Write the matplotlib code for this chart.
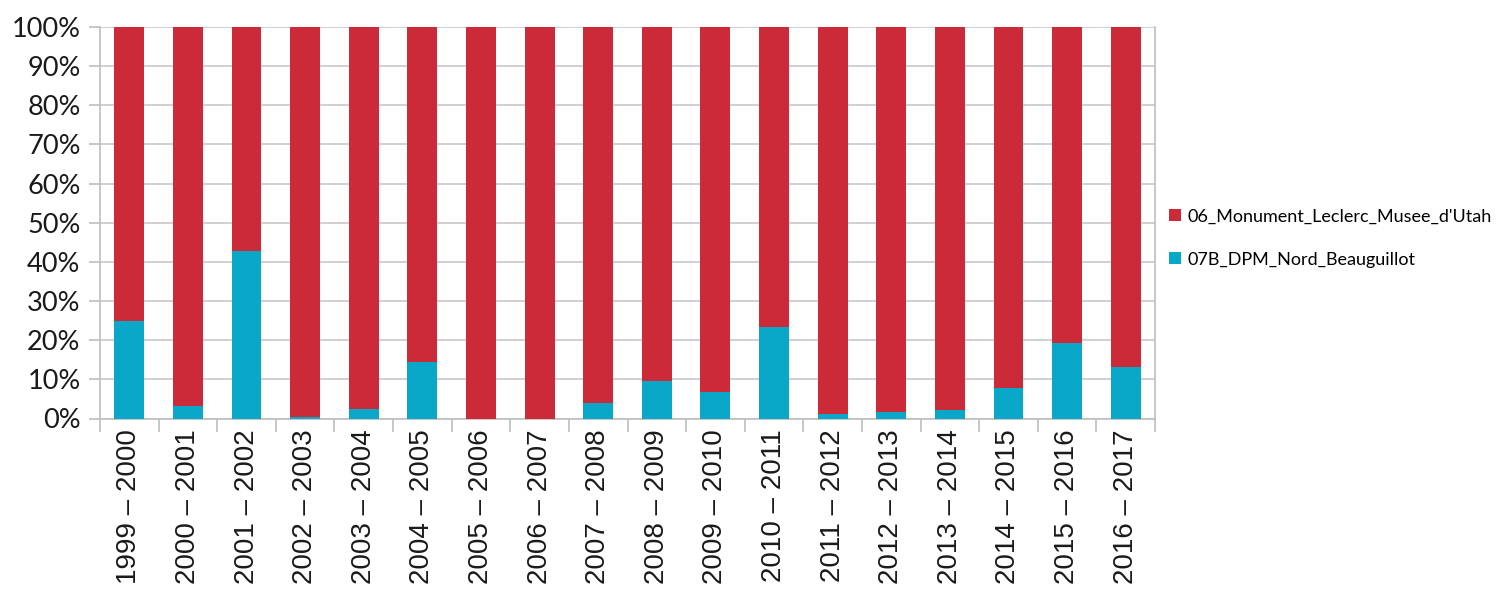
import matplotlib.pyplot as plt
import numpy as np

seasons = ["1999 – 2000", "2000 – 2001", "2001 – 2002", "2002 – 2003", "2003 – 2004",
           "2004 – 2005", "2005 – 2006", "2006 – 2007", "2007 – 2008", "2008 – 2009",
           "2009 – 2010", "2010 – 2011", "2011 – 2012", "2012 – 2013", "2013 – 2014",
           "2014 – 2015", "2015 – 2016", "2016 – 2017"]
# share (%) of 07B_DPM_Nord_Beauguillot, the rest is 06_Monument_Leclerc
beauguillot = [25.0, 3.3, 42.8, 0.4, 2.4, 14.4, 0.0, 0.0, 3.9, 9.6,
               6.8, 23.4, 1.1, 1.7, 2.2, 7.9, 19.3, 13.2]
leclerc = [100 - v for v in beauguillot]

label_red = "06_Monument_Leclerc_Musee_d'Utah"
label_blue = "07B_DPM_Nord_Beauguillot"

red = "#CC2939"
blue = "#0AA8C8"
grey = "#BEBEBE"

fig = plt.figure(figsize=(14.99, 5.9), dpi=100)
ax = fig.add_axes([100 / 1499, 1 - 418.5 / 590, 1055 / 1499, 391.5 / 590])

x = np.arange(len(seasons))
ax.bar(x, beauguillot, width=0.51, color=blue, label=label_blue, zorder=3)
ax.bar(x, leclerc, width=0.51, bottom=beauguillot, color=red, label=label_red, zorder=3)

ax.set_xlim(-0.5, len(seasons) - 0.5)
ax.set_ylim(0, 100)
ax.set_yticks(np.arange(0, 101, 10))
ax.set_yticklabels(["{}%".format(v) for v in range(0, 101, 10)],
                   fontsize=19.5, family="Lato", color="#1a1a1a")
ax.yaxis.grid(True, color="#C8C8C8", linewidth=1.2, zorder=0)

# category labels centred, ticks on the boundaries
ax.set_xticks(x)
ax.set_xticklabels(seasons, rotation=90, fontsize=20, family="Liberation Sans", color="#1a1a1a")
ax.tick_params(axis="x", which="major", length=0, pad=8)
ax.set_xticks(np.arange(-0.5, len(seasons)), minor=True)
ax.tick_params(axis="x", which="minor", length=9, color=grey, width=1.2)
ax.tick_params(axis="y", length=8, color=grey, width=1.2, pad=6)

for s in ax.spines.values():
    s.set_color(grey)
    s.set_linewidth(1.2)
ax.spines["top"].set_visible(False)

handles, labels = ax.get_legend_handles_labels()
leg = ax.legend(handles[::-1], labels[::-1], loc="center left", bbox_to_anchor=(1.0, 0.461),
                frameon=False, prop={"family": "Lato", "size": 13},
                handlelength=0.65, handleheight=0.65, handletextpad=0.35, labelspacing=1.5,
                borderaxespad=0.4)

plt.savefig("out.png", dpi=100)
